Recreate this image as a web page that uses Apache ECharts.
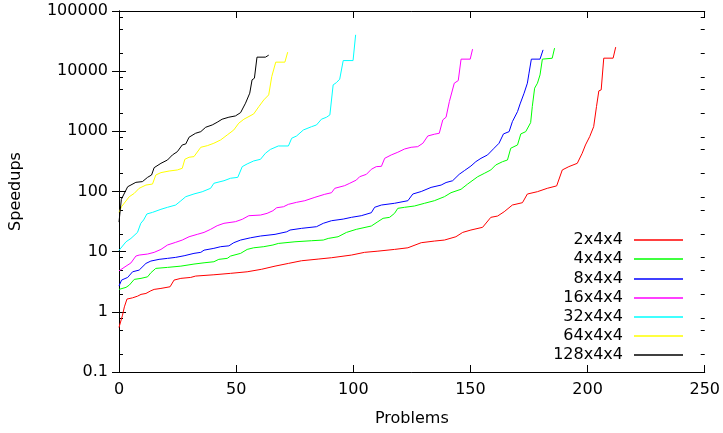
<!DOCTYPE html>
<html>
<head>
<meta charset="utf-8">
<script src="https://cdn.jsdelivr.net/npm/echarts@6/dist/echarts.min.js"></script>
<style>
html,body{margin:0;padding:0;background:#fff;}
#chart{width:723px;height:433px;}
</style>
</head>
<body>
<div id="chart"></div>
<script>
// ---- data (x = problem index, y = speedup) ----
const seriesNames = ['2x4x4','4x4x4','8x4x4','16x4x4','32x4x4','64x4x4','128x4x4'];
const seriesColors = ['#ff0000','#00ff00','#0000ff','#ff00ff','#00ffff','#ffff00','#000000'];

const s2x4x4 = [[0,0.55],[1.5,0.88],[2.3,1.21],[3.4,1.63],[5.8,1.71],[7.9,1.82],[9.4,1.95],[11.5,2.02],[13.6,2.24],[15,2.36],[17.9,2.45],[21.8,2.61],[23.5,3.37],[26.4,3.6],[30.6,3.73],[32.7,3.93],[40.5,4.13],[47.6,4.36],[54.7,4.63],[60.9,5.1],[66.6,5.75],[72.3,6.38],[77.9,7.06],[85,7.53],[90.7,7.93],[99.2,8.78],[104.8,9.74],[110.5,10.2],[117.6,10.9],[123.3,11.6],[129,14.1],[134.6,15],[138.9,15.6],[143.8,17.7],[146.7,20.9],[150.2,22.9],[155.2,25.4],[158.7,37.2],[161.6,39.1],[164.4,46.1],[167.9,59.6],[172.2,65.2],[174.3,90.8],[178.6,99.3],[182.8,113],[186.8,124],[189.2,228],[192,259],[195.6,294],[197.7,432],[199.1,594],[200.9,817],[202.6,1196],[203.8,2576],[204.8,4700],[205.8,4890],[206.9,16450],[210.9,16450],[212,25100]];

const s4x4x4 = [[0,2.36],[3,2.55],[4.4,2.78],[6.5,3.46],[9.4,3.6],[12.2,3.82],[13.6,4.46],[15.7,5.27],[20.7,5.48],[26.4,5.75],[32,6.22],[36.3,6.53],[40.5,6.8],[42.6,7.45],[46.2,7.74],[47.6,8.45],[51.9,9.37],[54.7,10.9],[57.5,11.6],[61.8,12.1],[65.7,12.9],[68,13.7],[75.1,14.6],[82.2,15.2],[87.2,15.6],[89.3,16.6],[93.5,17.7],[97.1,20.9],[101.3,23.5],[107.7,26.7],[110.5,31.5],[112.7,35.8],[115.5,37.2],[117.6,43.3],[119,52.5],[121.9,54.6],[126.1,57.4],[130.4,63.7],[134.6,70.3],[138.9,82],[141.7,95.5],[146,109],[148.8,133],[153.1,176],[155.9,200],[158.7,228],[160.8,276],[163.7,313],[165.8,334],[167.2,524],[170.1,594],[171.5,906],[173.6,988],[175.7,1396],[176.4,2576],[177.4,5215],[178.6,6310],[179.7,8670],[180.7,15850],[184.9,16400],[185.9,24150]];

const s8x4x4 = [[0,2.68],[1.1,3.37],[3.7,3.73],[5.8,4.63],[8.6,4.94],[11.5,6.38],[13.6,6.98],[17.1,7.45],[20.7,7.74],[24.2,8.04],[27.8,8.55],[32,9.37],[34.9,9.74],[36.3,10.6],[40.5,11.35],[43.4,12.1],[46.9,12.5],[49,14.1],[51.9,15.6],[56.1,17],[60.4,18.2],[66.6,19.4],[71.6,21.4],[73,22.9],[77.9,24.4],[84.3,26],[87.2,29.6],[90.7,32.7],[95.7,34.8],[99.2,37.2],[103.4,39.6],[107.7,44.4],[109.1,54.6],[112,59.6],[117.6,63.7],[123.3,70.3],[125.4,90.8],[129,100],[133.2,117],[137.5,128],[139.6,141],[142.4,151],[145.2,193],[147.4,222],[150.2,265],[152.3,313],[154.5,356],[157.3,405],[160.1,524],[162.2,634],[164.1,906],[166.5,988],[167.9,1449],[170.1,2128],[171.2,2858],[172.9,4305],[174.3,6310],[175,9270],[176,15850],[179.7,15850],[181,22600]];

const s16x4x4 = [[0,4.8],[3,5.75],[5.1,6.5],[7.2,8.45],[8.6,8.78],[12.2,9.13],[15,9.74],[17.9,10.9],[20.7,12.9],[24.2,14.3],[27,15.6],[29.9,17.7],[33.4,19.4],[36.3,20.9],[39.1,23.5],[41.9,27],[44.8,29.6],[49.7,31.5],[52.6,34.5],[55.4,39.6],[60.4,40.6],[63.2,43.3],[65.7,47.9],[67.3,53.7],[70.2,55.8],[72.3,61.2],[75.8,66.1],[79.3,70.3],[83.6,80],[87.8,89.8],[90.7,95.5],[92.1,113],[96.3,125],[98.5,137],[101.3,155],[102.7,176],[105.6,193],[107.7,234],[109.8,259],[112,262],[113.4,356],[116.2,405],[119,449],[121.9,509],[124.7,543],[127.5,556],[129.7,634],[131.8,837],[134.6,895],[136.7,929],[138.2,1549],[139.6,1718],[141,3119],[143.1,6310],[144.8,6982],[146,15850],[149.9,15850],[150.9,23230]];

const s32x4x4 = [[0,10.5],[3,14.6],[5.1,16.6],[7.9,20.9],[9.3,29.6],[10.5,33.6],[11.9,42.3],[14.3,45],[17.9,50.6],[20.7,54.6],[24.2,59.6],[26.4,70],[28.5,82],[32,91],[35.5,99],[39.1,113],[40.5,137],[44.8,151],[47.6,166],[50.7,172],[52.6,259],[54.7,287],[57.5,322],[60.4,343],[62.5,432],[64.6,500],[68,571],[72.3,571],[73.7,767],[75.8,837],[78.7,1054],[82.2,1196],[84.3,1277],[86.4,1589],[88.6,1718],[90,1875],[91.4,5916],[92.8,6457],[94.2,7360],[95.7,15000],[99.9,15000],[101,40200]];

const s64x4x4 = [[0,45],[1.1,56],[4.4,82],[6.5,93],[8.6,113],[11.5,128],[14.3,133],[15.7,188],[17.9,206],[21.4,219],[24.9,228],[27,243],[28.1,343],[29.9,371],[32,380],[34.9,543],[37.7,578],[40.5,634],[43.4,720],[46.2,871],[49,1054],[51.1,1364],[53.3,1589],[57.5,1948],[59.7,2576],[61.8,3326],[63.9,4035],[65.2,8130],[66.9,14120],[70.8,14120],[72,20700]];

const s128x4x4 = [[0,31],[1,74],[3.7,120],[7.2,142],[10,146],[12.2,172],[13.9,188],[15,249],[17.9,294],[20.7,334],[22.8,405],[24.9,459],[27,594],[28.5,617],[29.9,798],[32.7,929],[34.9,988],[37,1169],[39.8,1277],[41.9,1415],[44,1589],[46.9,1718],[49.7,1803],[51.9,2047],[54,2938],[55.8,4305],[56.8,7166],[57.8,7640],[58.9,17100],[62.5,17100],[63.9,18450]];

const seriesData = [s2x4x4, s4x4x4, s8x4x4, s16x4x4, s32x4x4, s64x4x4, s128x4x4];

// tick labels
const xTickLabels = ['0','50','100','150','200','250'];
const yTickLabels = ['0.1','1','10','100','1000','10000','100000'];
// minor tick values (gnuplot-style 2, 5, 8 per decade)
const yMinorTicks = [0.2,0.5,0.8,2,5,8,20,50,80,200,500,800,2000,5000,8000,20000,50000,80000];

const FONT = 'DejaVu Sans';
const chart = echarts.init(document.getElementById('chart'), null, {renderer:'canvas'});

const xAxisBase = {
  type:'value', min:0, max:250, interval:50,
  axisLine:{show:true, lineStyle:{color:'#000', width:1}},
  axisTick:{show:true, inside:true, length:7, lineStyle:{color:'#000'}},
  splitLine:{show:false}
};
const yAxisBase = {
  type:'log', logBase:10, min:0.1, max:100000, splitNumber:6,
  axisLine:{show:true, lineStyle:{color:'#000', width:1}},
  axisTick:{show:true, inside:true, length:7, lineStyle:{color:'#000'}},
  splitLine:{show:false}
};

const lineSeries = seriesNames.map((name, i) => ({
  name: name,
  type:'line',
  data: seriesData[i],
  showSymbol:false,
  symbol:'none',
  lineStyle:{color:seriesColors[i], width:1},
  itemStyle:{color:seriesColors[i]},
  animation:false,
  silent:true,
  z: 3
}));

const minorTickSeries = {
  type:'custom',
  silent:true,
  animation:false,
  xAxisIndex:0, yAxisIndex:0,
  data: yMinorTicks.map(v => [0, v]),
  encode:{x:0, y:1},
  clip:false,
  renderItem: function(params, api){
    const v = api.value(1);
    const pl = api.coord([0, v]);
    const pr = api.coord([250, v]);
    const y = Math.round(pl[1]) + 0.5;
    return {
      type:'group',
      children:[
        {type:'line', shape:{x1:pl[0], y1:y, x2:pl[0]+4, y2:y}, style:{stroke:'#000', lineWidth:1}},
        {type:'line', shape:{x1:pr[0]-4, y1:y, x2:pr[0], y2:y}, style:{stroke:'#000', lineWidth:1}}
      ]
    };
  }
};

const legendRowTop = [232, 251, 271, 290, 309, 328, 347];
const legends = seriesNames.map((name, i) => ({
  data:[name],
  right:40,
  top:legendRowTop[i],
  orient:'horizontal',
  align:'right',
  padding:0,
  icon:'rect',
  itemWidth:49,
  itemHeight:1.5,
  selectedMode:false,
  textStyle:{fontFamily:FONT, fontSize:16, color:'#000', padding:[0,6,0,0]}
}));

chart.setOption({
  animation:false,
  backgroundColor:'#fff',
  grid:{left:117, right:18, top:11, bottom:61, containLabel:false},
  legend: legends,
  xAxis:[
    Object.assign({}, xAxisBase, {
      position:'bottom',
      name:'Problems', nameLocation:'middle', nameGap:39,
      nameTextStyle:{fontFamily:FONT, fontSize:16, color:'#000'},
      axisLabel:{fontFamily:FONT, fontSize:16, color:'#000', margin:10,
        formatter: v => xTickLabels[Math.round(v/50)]}
    }),
    Object.assign({}, xAxisBase, {position:'top', axisLabel:{show:false}})
  ],
  yAxis:[
    Object.assign({}, yAxisBase, {
      position:'left',
      name:'Speedups', nameLocation:'middle', nameGap:95,
      nameTextStyle:{fontFamily:FONT, fontSize:16, color:'#000'},
      axisLabel:{fontFamily:FONT, fontSize:16, color:'#000', margin:11,
        formatter: v => yTickLabels[Math.round(Math.log10(v)) + 1]}
    }),
    Object.assign({}, yAxisBase, {position:'right', axisLabel:{show:false}})
  ],
  series: lineSeries.concat([minorTickSeries])
});
</script>
</body>
</html>
